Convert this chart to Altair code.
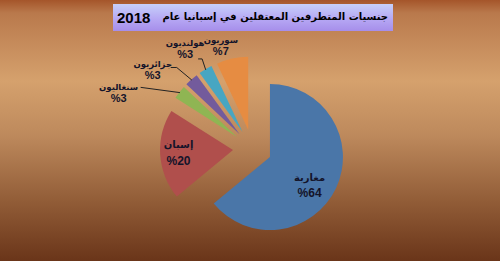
import altair as alt
import numpy as np
import pandas as pd

# ---- data ----
names = ["مغاربة", "إسبان", "سنغاليون", "جزائريون", "هولنديون", "سوريون"]
pct = [64, 20, 3, 3, 3, 7]
pct_labels = ["%64", "%20", "%3", "%3", "%3", "%7"]
colors = ["#4a76a8", "#b04f4c", "#8fb553", "#735b9c", "#47a6c2", "#e68c42"]
title_ar = "جنسيات المتطرفين المعتقلين في إسبانيا عام"
title_year = "2018"

# ---- layout (pixels) ----
W, H = 500, 261
CX, CY = 252.4, 148.8        # pie centre
EXPLODE = 19.4               # explosion distance
R = 73                       # pie radius
label_r = [68, 74, 145, 127, 120, 108]
label_shift = [7.6, 0.0, -15.1, -10.3, -3.5, -4.4]
label_big = [True, True, False, False, False, False]
leader_off = [None, None, (22, -5.5), (18, -2.6), (13, 9.5), None]
leader_elbow = [0, 0, 0, 6, 4, 0]

# ---- computed table ----
p = np.array(pct, dtype=float)
end = np.cumsum(p) / p.sum() * 2 * np.pi
start = end - p / p.sum() * 2 * np.pi
mid = (start + end) / 2
ox = CX + EXPLODE * np.sin(mid)
oy = CY - EXPLODE * np.cos(mid)
lang = mid + np.radians(label_shift)
lx = CX + np.array(label_r) * np.sin(lang)
ly = CY - np.array(label_r) * np.cos(lang)

slices = pd.DataFrame({
    "name": names, "pct": pct, "plabel": pct_labels, "t0": start, "t1": end,
    "cx": ox, "cy": oy, "color": colors,
    "lx": lx, "ly": ly, "big": label_big,
})

rows = []
for i in range(len(names)):
    if leader_off[i] is None:
        continue
    sx, sy = lx[i] + leader_off[i][0], ly[i] + leader_off[i][1]
    ex = ox[i] + R * 0.99 * np.sin(mid[i])
    ey = oy[i] - R * 0.99 * np.cos(mid[i])
    rows += [
        {"slice": names[i], "o": 0, "x": sx, "y": sy},
        {"slice": names[i], "o": 1, "x": sx + leader_elbow[i], "y": sy},
        {"slice": names[i], "o": 2, "x": ex, "y": ey},
    ]
leaders = pd.DataFrame(rows)

one = pd.DataFrame({"k": [0]})

bg_grad = alt.LinearGradient(
    gradient="linear", x1=0, y1=0, x2=0, y2=1,
    stops=[
        alt.GradientStop(color="#a5552a", offset=0),
        alt.GradientStop(color="#b9794c", offset=0.05),
        alt.GradientStop(color="#d5a16d", offset=0.31),
        alt.GradientStop(color="#bd895c", offset=0.52),
        alt.GradientStop(color="#905b36", offset=0.78),
        alt.GradientStop(color="#6a3519", offset=1),
    ],
)
title_grad = alt.LinearGradient(
    gradient="linear", x1=0, y1=0, x2=0, y2=1,
    stops=[
        alt.GradientStop(color="#c6d0fa", offset=0),
        alt.GradientStop(color="#b6a8f4", offset=0.55),
        alt.GradientStop(color="#a68eea", offset=1),
    ],
)

AR_FONT = "DejaVu Sans, sans-serif"
NUM_FONT = "Liberation Sans, Arial, sans-serif"
TXT = "#14142a"

background = alt.Chart(one).mark_rect(fill=bg_grad).encode(
    x=alt.value(0), x2=alt.value(W), y=alt.value(0), y2=alt.value(H)
)
title_box = alt.Chart(one).mark_rect(fill=title_grad).encode(
    x=alt.value(113), x2=alt.value(393), y=alt.value(4), y2=alt.value(31)
)
title_a = alt.Chart(one).mark_text(
    text=title_ar, font=AR_FONT, fontSize=10, fontWeight="bold",
    color="#000000", align="right", baseline="middle",
).encode(x=alt.value(388), y=alt.value(17))
title_y = alt.Chart(one).mark_text(
    text=title_year, font=NUM_FONT, fontSize=15, fontWeight="bold",
    color="#000000", align="left", baseline="middle",
).encode(x=alt.value(117), y=alt.value(18))

pie = alt.Chart(slices).mark_arc(radius=R).encode(
    theta=alt.Theta("t0:Q", scale=None),
    theta2="t1:Q",
    x=alt.X("cx:Q", scale=None, axis=None),
    y=alt.Y("cy:Q", scale=None, axis=None),
    color=alt.Color("color:N", scale=None, legend=None),
)

lines = alt.Chart(leaders).mark_line(color="#222222", strokeWidth=1).encode(
    x=alt.X("x:Q", scale=None, axis=None),
    y=alt.Y("y:Q", scale=None, axis=None),
    detail="slice:N",
    order="o:Q",
)


def label_layer(is_big, field, dy, size, font):
    return alt.Chart(slices).transform_filter(
        "datum.big" if is_big else "!datum.big"
    ).mark_text(
        font=font, fontSize=size, fontWeight="bold", color=TXT,
        align="center", baseline="middle", dy=dy,
    ).encode(
        x=alt.X("lx:Q", scale=None, axis=None),
        y=alt.Y("ly:Q", scale=None, axis=None),
        text=f"{field}:N",
    )


labels = [
    label_layer(True, "name", -8, 10, AR_FONT),
    label_layer(True, "plabel", 7.5, 12, NUM_FONT),
    label_layer(False, "name", -6, 8.5, AR_FONT),
    label_layer(False, "plabel", 6, 11, NUM_FONT),
]

chart = alt.layer(background, title_box, title_a, title_y, pie, lines, *labels).properties(
    width=W, height=H, padding=0, autosize=alt.AutoSizeParams(type="none"),
    background="#b98a5e",
).configure_view(stroke=None)

chart.save("out.html", embed_options={"renderer": "svg", "actions": False})
